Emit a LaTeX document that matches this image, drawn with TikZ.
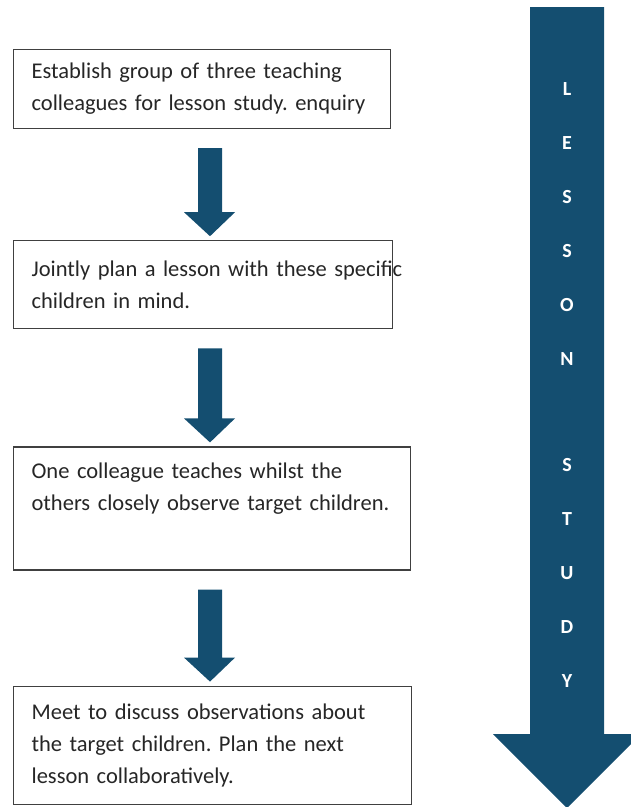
\documentclass[tikz,border=0pt]{standalone}
\usepackage{fontspec}
\setmainfont{Carlito}
\usepackage{tikz}
\usetikzlibrary{positioning,calc}

\definecolor{flowblue}{RGB}{20,78,112}
\frenchspacing

\begin{document}
\begin{tikzpicture}[
  x=1pt, y=-1pt,
  stage/.style={draw=black!75, line width=1.2pt, align=left, inner xsep=18pt, inner ysep=0pt,
    font=\fontsize{22.5}{32}\selectfont, text=black!85, anchor=north west},
  flow/.style={fill=flowblue},
  letter/.style={text=white, font=\fontsize{20}{22}\selectfont\bfseries}
]
\useasboundingbox (0,0) rectangle (631,807);

% process boxes
\node[stage, minimum width=377pt, text width=341pt, minimum height=79pt] (b1) at (13,49)
  {Establish group of three teaching\\colleagues for lesson study. enquiry};
\node[stage, minimum width=379pt, text width=343pt, minimum height=88pt, below=111pt of b1.south west, anchor=north west] (b2)
  {\mbox{Jointly plan a lesson with these specific}\\children in mind.};
\node[stage, minimum width=397pt, text width=361pt, minimum height=123pt, below=117pt of b2.south west, anchor=north west] (b3)
  {One colleague teaches whilst the\\others closely observe target children.\\[12pt]\mbox{}};
\node[stage, minimum width=398pt, text width=362pt, minimum height=118pt, below=115pt of b3.south west, anchor=north west] (b4)
  {Meet to discuss observations about\\the target children. Plan the next\\lesson collaboratively.};

% arrows between the boxes
\foreach \a/\b in {b1/b2, b2/b3, b3/b4}
  \fill[flow] let \p1=(\a.south), \p2=(\b.north) in
    (198pt,\y1-19pt) -- (222pt,\y1-19pt) -- (222pt,\y2+28pt) -- (235pt,\y2+28pt)
    -- (210pt,\y2+4pt) -- (184pt,\y2+28pt) -- (198pt,\y2+28pt) -- cycle;

% big side arrow
\fill[flow] (530,7) -- (604,7) -- (604,734) -- (641,734) -- (567,808)
  -- (493,734) -- (530,734) -- cycle;
\foreach \ch [count=\i] in {L,E,S,S,O,N}
  \node[letter] (w\i) at (567,35+54*\i) {\ch};
\foreach \ch [count=\i] in {S,T,U,D,Y}
  \node[letter] (s\i) at (567,411+54*\i) {\ch};
\end{tikzpicture}
\end{document}
